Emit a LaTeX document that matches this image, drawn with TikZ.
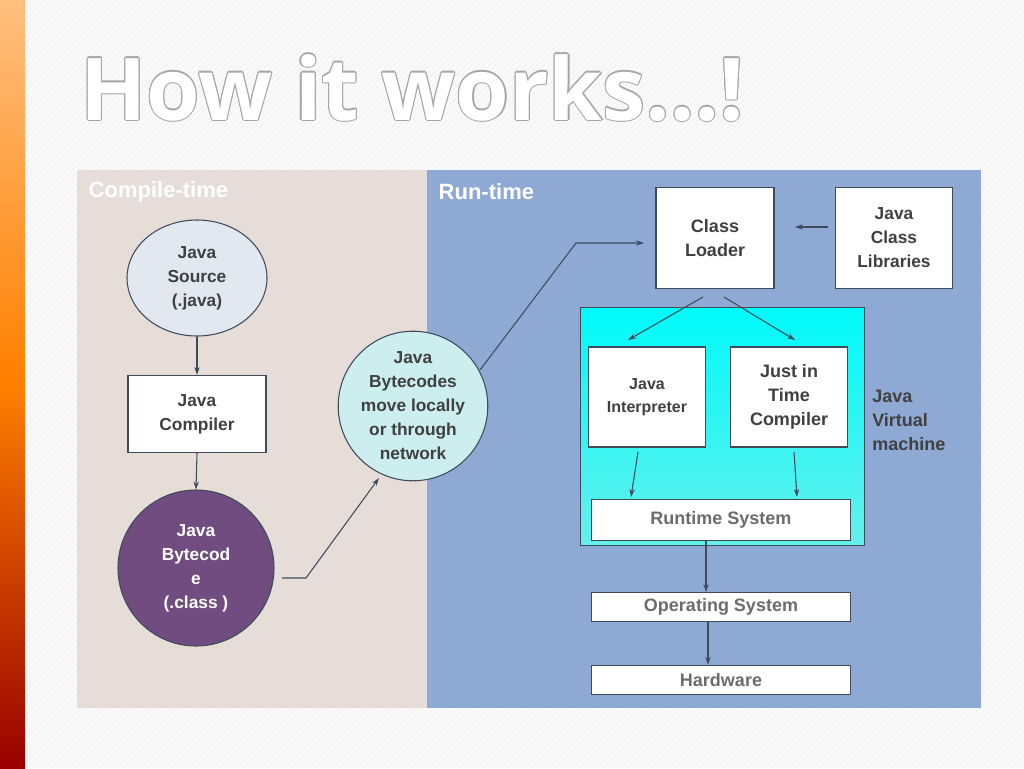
\documentclass[tikz,border=0pt]{standalone}
\usepackage{fontspec}
\setmainfont{Liberation Sans}
\newfontfamily\titlef{Open Sans}
\usetikzlibrary{arrows.meta,shapes.geometric}
\definecolor{txt}{HTML}{404040}
\definecolor{edge}{HTML}{3F4B5B}
\begin{document}
\begin{tikzpicture}[x=0.75pt,y=-0.75pt,
 box/.style={draw=edge,fill=white,line width=0.8pt,align=center,font=\bfseries\fontsize{13}{18}\selectfont,text=txt,inner sep=0pt},
 low/.style={box,text=gray!85!black,font=\bfseries\fontsize{13.5}{18}\selectfont},
 arr/.style={-{Stealth[length=6pt,width=4pt]},draw=edge,line width=0.8pt}]
\useasboundingbox (0,0) rectangle (1024,768);
\fill[gray!8] (0,0) rectangle (1024,768);
\begin{scope}
\clip (0,0) rectangle (1024,768);
\foreach \i in {0,6,...,1800}{\draw[white,line width=0.6pt] (\i,0) -- (\i-768,768);}
\end{scope}
\shade[top color=orange!50,bottom color=red!60!black,middle color=orange] (0,0) rectangle (25,768);
% title
\foreach \dx/\dy in {1.2/0,-1.2/0,0/1.2,0/-1.2,0.9/0.9,-0.9/0.9,0.9/-0.9,-0.9/-0.9}
 \node[anchor=base west,text=gray!70,font=\titlef\bfseries\fontsize{65}{70}\selectfont,inner sep=0] at (80+\dx,120+\dy) {How it works…!};
\node[anchor=base west,text=white,font=\titlef\bfseries\fontsize{65}{70}\selectfont,inner sep=0] (title) at (80,120) {How it works…!};
% panels
\fill[fill={rgb,255:red,230;green,221;blue,216}] (77,170) rectangle (427,708);
\fill[fill={rgb,255:red,142;green,170;blue,212}] (427,170) rectangle (981,708);
\node[anchor=west,text=white,font=\bfseries\fontsize{16.5}{18}\selectfont] (ct) at (84,192) {Compile-time};
\node[anchor=west,text=white,font=\bfseries\fontsize{16.5}{18}\selectfont] (rt) at (434,192) {Run-time};
% JVM
\shade[top color={rgb,255:red,0;green,250;blue,250},bottom color={rgb,255:red,100;green,240;blue,235},draw=edge] (580,307) rectangle (864,545);
\node[anchor=north west,align=left,text=txt,font=\bfseries\fontsize{13.5}{18}\selectfont,inner sep=0] (jvm) at (872,390) {Java\\Virtual\\machine};
% nodes
\node[box,ellipse,fill={rgb,255:red,226;green,232;blue,240},minimum width=0.75*140,minimum height=0.75*116] (src) at (197,278) {Java\\Source\\(.java)};
\node[box,minimum width=0.75*138,minimum height=0.75*77] (comp) at (197,414) {Java\\Compiler};
\node[box,circle,fill={rgb,255:red,112;green,76;blue,128},text=white,minimum size=0.75*156] (bc) at (196,568) {Java\\Bytecod\\e\\(.class )};
\node[box,circle,fill={rgb,255:red,204;green,238;blue,238},minimum size=0.75*148] (net) at (413,406) {Java\\Bytecodes\\move locally\\or through\\network};
\node[box,minimum width=0.75*118,minimum height=0.75*101,font=\bfseries\fontsize{13.5}{18}\selectfont] (cl) at (715,238) {Class\\Loader};
\node[box,minimum width=0.75*117,minimum height=0.75*101] (lib) at (894,238) {Java\\Class\\Libraries};
\node[box,minimum width=0.75*117,minimum height=0.75*100,font=\bfseries\fontsize{12}{17}\selectfont] (int) at (647,397) {Java\\Interpreter};
\node[box,minimum width=0.75*117,minimum height=0.75*100,font=\bfseries\fontsize{13.5}{18}\selectfont] (jit) at (789,397) {Just in\\Time\\Compiler};
\node[low,minimum width=0.75*259,minimum height=0.75*41] (rs) at (721,520) {Runtime System};
\node[low,minimum width=0.75*259,minimum height=0.75*29] (os) at (721,607) {Operating System};
\node[low,minimum width=0.75*259,minimum height=0.75*29] (hw) at (721,680) {Hardware};
% arrows
\draw[arr] (src.south) -- (comp.north);
\draw[arr] (comp.south) -- (bc.north);
\coordinate (b1) at (282,578); \coordinate (b2) at (306,578); \coordinate (b3) at (379,478);
\draw[arr] (b1) -- (b2) -- (b3);
\coordinate (n1) at (480,370); \coordinate (n2) at (576,243); \coordinate (n3) at (644,243);
\draw[arr] (n1) -- (n2) -- (n3);
\coordinate (l1) at (828,227); \coordinate (l2) at (795,227);
\draw[arr] (l1) -- (l2);
\coordinate (c1) at (703,297); \coordinate (c2) at (628,340);
\coordinate (c3) at (724,297); \coordinate (c4) at (795,340);
\draw[arr] (c1) -- (c2); \draw[arr] (c3) -- (c4);
\coordinate (i1) at (638,452); \coordinate (i2) at (631,497);
\coordinate (j1) at (794,452); \coordinate (j2) at (797,497);
\draw[arr] (i1) -- (i2); \draw[arr] (j1) -- (j2);
\draw[arr] ([xshift=-11.25pt]rs.south) -- ([xshift=-11.25pt]os.north);
\draw[arr] ([xshift=-9.75pt]os.south) -- ([xshift=-9.75pt]hw.north);
\end{tikzpicture}
\end{document}
